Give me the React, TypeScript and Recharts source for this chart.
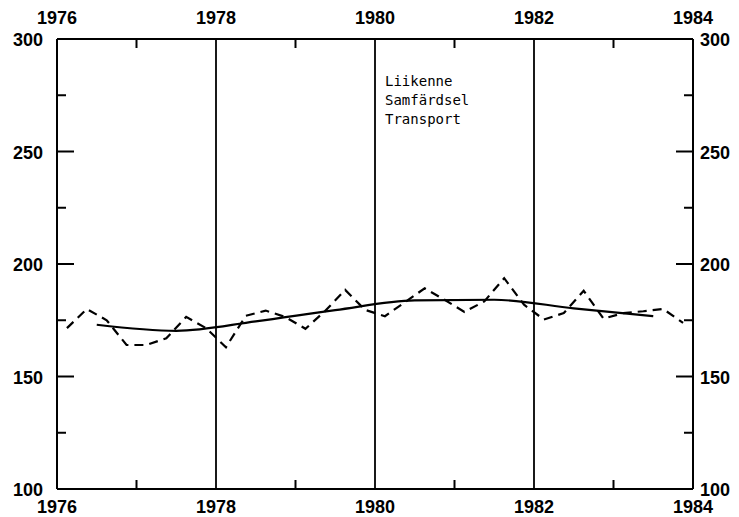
import React from 'react';
import { LineChart, Line, XAxis, YAxis, ReferenceLine } from 'recharts';

// quarterly index values, 1976Q1 .. 1983Q4
const years = [1976, 1977, 1978, 1979, 1980, 1981, 1982, 1983];
const quarterly = [
  [171.5, 180, 175, 164],
  [164, 167, 176.5, 171.5],
  [163, 177, 179.3, 176.4],
  [171.2, 179.2, 188.5, 179.6],
  [176.8, 183, 189.2, 184.1],
  [178.7, 183.4, 193.7, 181.9],
  [175.3, 178.2, 188.1, 175.7],
  [178.2, 179, 180, 173.8],
];
// smoothed trend, plotted at mid-year
const trend = [173, 170.3, 174.5, 179.5, 183.8, 184.1, 180.3, 176.8];

const xTicks = [1976, 1977, 1978, 1979, 1980, 1981, 1982, 1983, 1984];
const yTicks = [100, 125, 150, 175, 200, 225, 250, 275, 300];
const gridYears = [1978, 1980, 1982];
const label = ['Liikenne', 'Samfärdsel', 'Transport'];

const quarterData = years.flatMap((y, i) =>
  quarterly[i].map((v, q) => ({ t: y + (q + 0.5) / 4, v }))
);
const trendData = years.map((y, i) => ({ t: y + 0.5, v: trend[i] }));

const FONT = 'Liberation Sans, Arial, sans-serif';
// plot frame edges
const LEFT = 57, RIGHT = 693, TOP = 39, BOTTOM = 489;

const XTick = ({ x, payload, side }: any) => {
  const isTop = side === 'top';
  const y = isTop ? TOP : BOTTOM;
  const major = payload.value % 2 === 0;
  const dir = isTop ? 1 : -1;
  return (
    <g>
      {!major && <line x1={x} x2={x} y1={y} y2={y + dir * 9} stroke="#000" strokeWidth={2} />}
      {major && (
        <text x={x} y={isTop ? y - 15 : y + 24} textAnchor="middle" fontFamily={FONT}
          fontWeight="bold" fontSize={18} fill="#000">{payload.value}</text>
      )}
    </g>
  );
};

const YTick = ({ y, payload, side }: any) => {
  const isRight = side === 'right';
  const x = isRight ? RIGHT : LEFT;
  const major = payload.value % 50 === 0;
  const len = major ? 17 : 9;
  const dir = isRight ? -1 : 1;
  return (
    <g>
      <line x1={x} x2={x + dir * len} y1={y} y2={y} stroke="#000" strokeWidth={2} />
      {major && (
        <text x={isRight ? x + 7 : x - 14} y={y + 7} textAnchor={isRight ? 'start' : 'end'}
          fontFamily={FONT} fontWeight="bold" fontSize={18} fill="#000">{payload.value}</text>
      )}
    </g>
  );
};

export default function App() {
  const axisLine = { stroke: '#000', strokeWidth: 2 };
  return (
    <div style={{ position: 'absolute', left: 0, top: 0, width: 739, height: 517, background: '#fff' }}>
      <LineChart width={739} height={517} margin={{ top: 0, right: 0, bottom: 0, left: 0 }}>
        <XAxis xAxisId="b" dataKey="t" type="number" domain={[1976, 1984]} ticks={xTicks}
          orientation="bottom" height={517 - BOTTOM} tickLine={false} axisLine={axisLine}
          tick={(p: any) => <XTick {...p} side="bottom" />} interval={0} />
        <XAxis xAxisId="t" dataKey="t" type="number" domain={[1976, 1984]} ticks={xTicks}
          orientation="top" height={TOP} tickLine={false} axisLine={axisLine}
          tick={(p: any) => <XTick {...p} side="top" />} interval={0} />
        <YAxis yAxisId="l" dataKey="v" type="number" domain={[100, 300]} ticks={yTicks} orientation="left"
          width={LEFT} tickLine={false} axisLine={axisLine}
          tick={(p: any) => <YTick {...p} side="left" />} interval={0} />
        <YAxis yAxisId="r" dataKey="v" type="number" domain={[100, 300]} ticks={yTicks} orientation="right"
          width={739 - RIGHT} tickLine={false} axisLine={axisLine}
          tick={(p: any) => <YTick {...p} side="right" />} interval={0} />
        {gridYears.map((g) => (
          <ReferenceLine key={g} x={g} xAxisId="b" yAxisId="l" stroke="#000" strokeWidth={1.8} />
        ))}
        <Line xAxisId="b" yAxisId="l" data={quarterData} dataKey="v" type="linear" stroke="#000"
          strokeWidth={2.2} strokeDasharray="9 6" dot={false} isAnimationActive={false} />
        <Line xAxisId="b" yAxisId="l" data={trendData} dataKey="v" type="monotone" stroke="#000"
          strokeWidth={2.2} dot={false} isAnimationActive={false} />
        {/* invisible copy so the top and right axes get a scale */}
        <Line xAxisId="t" yAxisId="r" data={trendData} dataKey="v" type="monotone" stroke="none"
          dot={false} activeDot={false} isAnimationActive={false} />
        <text fontFamily="DejaVu Sans Mono, monospace" fontSize={14} fill="#000">
          {label.map((s, i) => (
            <tspan key={s} x={385} y={86 + i * 19}>{s}</tspan>
          ))}
        </text>
      </LineChart>
    </div>
  );
}
